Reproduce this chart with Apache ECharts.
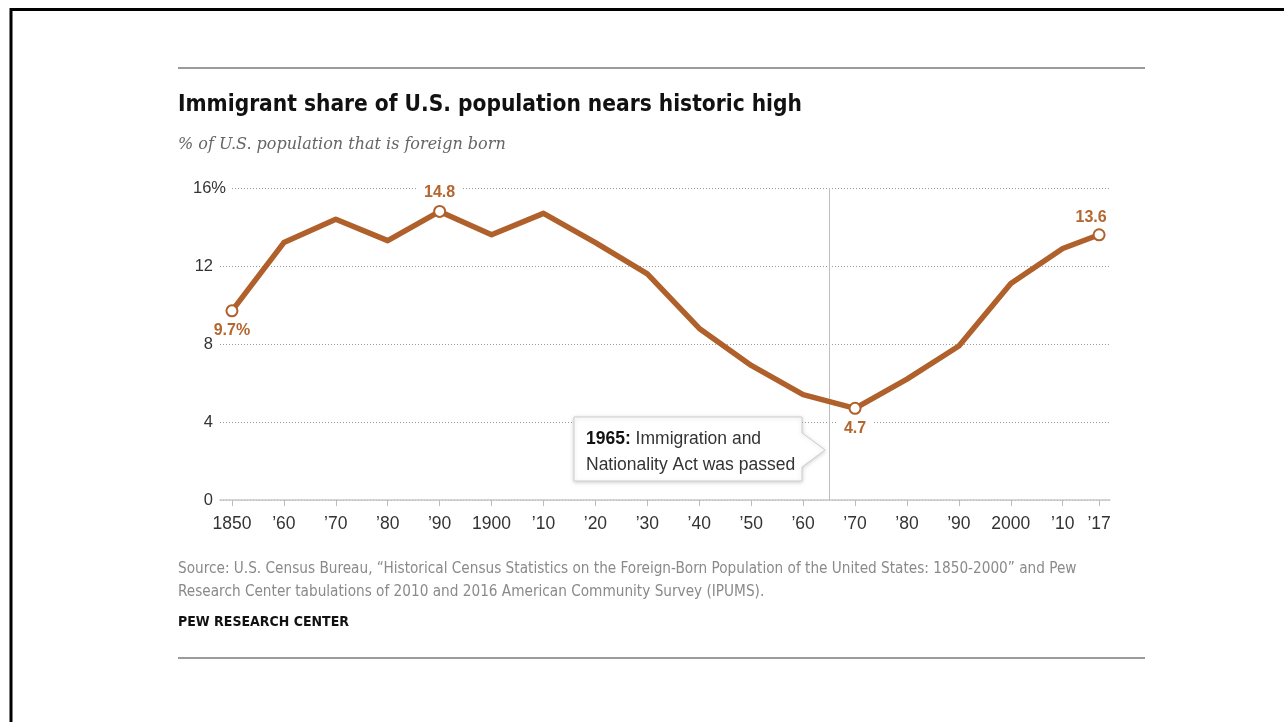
<!DOCTYPE html>
<html>
<head>
<meta charset="utf-8">
<script src="https://cdn.jsdelivr.net/npm/echarts@6/dist/echarts.min.js"></script>
<style>
html,body{margin:0;padding:0;background:#fff;}
#chart{width:1284px;height:722px;}
</style>
</head>
<body>
<div id="chart"></div>
<script>
// ---- data ----
const years = [1850,1860,1870,1880,1890,1900,1910,1920,1930,1940,1950,1960,1970,1980,1990,2000,2010,2017];
const shares = [9.7,13.2,14.4,13.3,14.8,13.6,14.7,13.2,11.6,8.8,6.9,5.4,4.7,6.2,7.9,11.1,12.9,13.6];
const tickYears = [1850,1860,1870,1880,1890,1900,1910,1920,1930,1940,1950,1960,1970,1980,1990,2000,2010,2017];
const tickLabels = ['1850','\u201960','\u201970','\u201980','\u201990','1900','\u201910','\u201920','\u201930','\u201940','\u201950','\u201960','\u201970','\u201980','\u201990','2000','\u201910','\u201917'];
const yTicks = [0,4,8,12,16];
const labeledYears = [1850,1890,1970,2017];
const eventYear = 1965;
const eventBold = '1965:';
const eventText = ' Immigration and\nNationality Act was passed';
const titleText = 'Immigrant share of U.S. population nears historic high';
const subtitleText = '% of U.S. population that is foreign born';
const sourceText = 'Source: U.S. Census Bureau, \u201cHistorical Census Statistics on the Foreign-Born Population of the United States: 1850-2000\u201d and Pew\nResearch Center tabulations of 2010 and 2016 American Community Survey (IPUMS).';
const creditText = 'PEW RESEARCH CENTER';

// ---- styles ----
const LINE = '#b0602a';
const LABEL = '#b5652e';
const belowYears = [1850, 1970];
const gapYears = [1890, 1970];   // labels that sit on a gridline get a white backing

const seriesData = years.map((y, i) => {
  const item = { value: [y, shares[i]] };
  if (labeledYears.indexOf(y) >= 0) {
    const below = belowYears.indexOf(y) >= 0;
    const gap = gapYears.indexOf(y) >= 0;
    item.symbol = 'circle';
    item.symbolSize = 11;
    item.label = {
      show: true,
      position: below ? 'bottom' : 'top',
      distance: below ? 5 : 3,
      offset: y === 2017 ? [-8, 0] : [0, 0],
      backgroundColor: gap ? '#fff' : 'transparent',
      padding: gap ? [1, 7, 1, 7] : 0,
      formatter: y === 1850 ? shares[i] + '%' : String(shares[i])
    };
  } else {
    item.symbol = 'none';
  }
  return item;
});

const chart = echarts.init(document.getElementById('chart'), null, { renderer: 'canvas' });
const condensed = "'Liberation Sans Narrow','DejaVu Sans Condensed','Roboto Condensed',Roboto,sans-serif";
const sans = "'Liberation Sans',Arial,sans-serif";

chart.setOption({
  animation: false,
  backgroundColor: '#fff',
  title: [
    { text: titleText, left: 178, top: 90, padding: 0,
      textStyle: { fontFamily: condensed, fontWeight: 'bold', fontSize: 22.5, color: '#111', lineHeight: 30 } },
    { text: subtitleText, left: 178, top: 133, padding: 0,
      textStyle: { fontFamily: "'DejaVu Serif','Liberation Serif',serif", fontStyle: 'italic', fontWeight: 'normal', fontSize: 16, color: '#666', lineHeight: 24 } },
    { text: sourceText, left: 178, top: 558, padding: 0,
      textStyle: { fontFamily: condensed, fontWeight: 'normal', fontSize: 15.2, color: '#8a8a8a', lineHeight: 23 } },
    { text: creditText, left: 178, top: 612, padding: 0,
      textStyle: { fontFamily: condensed, fontWeight: 'bold', fontSize: 14, color: '#111', lineHeight: 20 } }
  ],
  grid: { left: 220, right: 174, top: 188, bottom: 222 },
  xAxis: {
    type: 'value',
    min: 1847.7,
    max: 2019.1,
    splitLine: { show: false },
    axisLine: { show: true, lineStyle: { color: '#c8c8c8', width: 1.5 } },
    axisTick: { show: true, customValues: tickYears, length: 6, lineStyle: { color: '#bbb' } },
    axisLabel: {
      customValues: tickYears,
      margin: 15,
      fontFamily: sans, fontSize: 17.5, color: '#333',
      formatter: v => tickLabels[tickYears.indexOf(Math.round(v))]
    }
  },
  yAxis: {
    type: 'value',
    min: 0, max: 16, interval: 4,
    axisLine: { show: false },
    axisTick: { show: false },
    splitLine: { show: true, lineStyle: { color: '#999', width: 1, type: [1, 2] } },
    axisLabel: {
      margin: -12,
      formatter: v => v === yTicks[yTicks.length - 1] ? '{p|' + v + '%}' : '{n|' + v + '}',
      rich: {
        p: { fontFamily: sans, fontSize: 16.5, color: '#333', backgroundColor: '#fff', padding: [0, 6, 0, 0] },
        n: { fontFamily: sans, fontSize: 16.5, color: '#333', padding: [0, 19, 0, 0] }
      }
    }
  },
  series: [{
    type: 'line',
    data: seriesData,
    lineStyle: { color: LINE, width: 5.5, join: 'round', cap: 'round' },
    itemStyle: { color: '#fff', borderColor: LINE, borderWidth: 2 },
    label: {
      fontFamily: sans, fontSize: 16, fontWeight: 'bold', color: LABEL
    },
    z: 5,
    markLine: {
      silent: true,
      symbol: 'none',
      label: { show: false },
      lineStyle: { color: '#bdbdbd', width: 1, type: 'solid' },
      data: [{ xAxis: eventYear }],
      z: 1
    }
  }],
  graphic: [
    { type: 'line', shape: { x1: 10, y1: 9.5, x2: 1284, y2: 9.5 }, style: { stroke: '#000', lineWidth: 3 } },
    { type: 'line', shape: { x1: 11, y1: 8, x2: 11, y2: 722 }, style: { stroke: '#000', lineWidth: 3 } },
    { type: 'line', shape: { x1: 178, y1: 68, x2: 1145, y2: 68 }, style: { stroke: '#7a7a7a', lineWidth: 1.5 } },
    { type: 'line', shape: { x1: 178, y1: 658, x2: 1145, y2: 658 }, style: { stroke: '#7a7a7a', lineWidth: 1.5 } },
    { type: 'polygon', z: 10,
      shape: { points: [[574,417],[802,417],[802,433],[825,450],[802,467],[802,481],[574,481]] },
      style: { fill: '#fff', stroke: '#cfcfcf', lineWidth: 1, shadowBlur: 4, shadowColor: 'rgba(0,0,0,0.18)', shadowOffsetY: 1 } },
    { type: 'text', z: 11, x: 586, y: 426,
      style: {
        text: '{b|' + eventBold + '}' + eventText,
        fontFamily: sans, fontSize: 17.5, fill: '#333', lineHeight: 26,
        verticalAlign: 'top',
        rich: { b: { fontFamily: sans, fontSize: 17.5, fontWeight: 'bold', fill: '#111', lineHeight: 26 } }
      } }
  ]
});
</script>
</body>
</html>
